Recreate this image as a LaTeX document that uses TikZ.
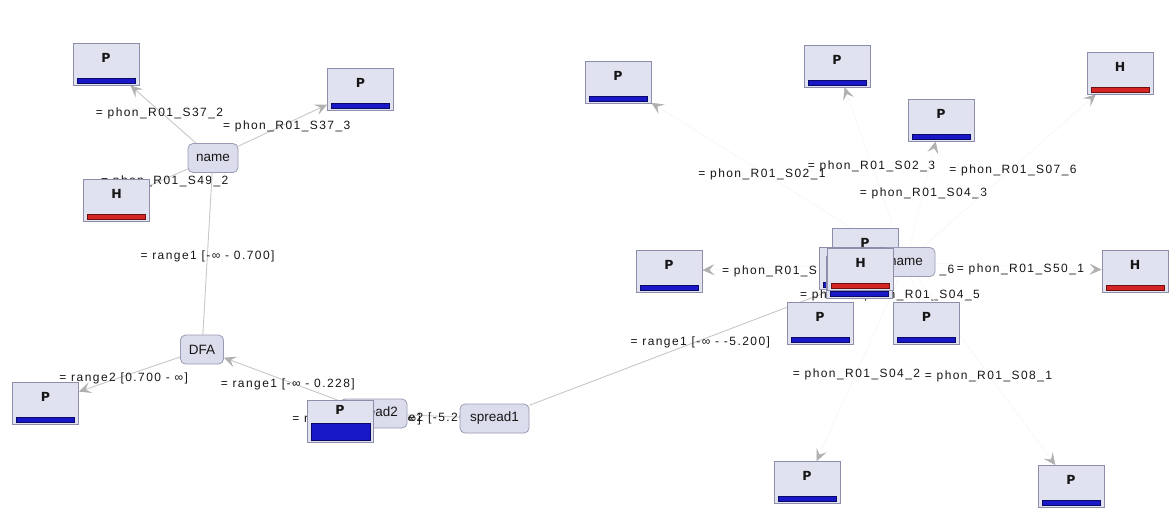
\documentclass[tikz,border=0pt]{standalone}
\usepackage{fontspec}
\setmainfont{Liberation Sans}
\newfontfamily\edgefont{Liberation Sans}[LetterSpace=12]
\newfontfamily\boxfont{DejaVu Sans}
\usetikzlibrary{arrows.meta,calc}

\definecolor{boxfill}{HTML}{E1E2F0}
\definecolor{boxline}{HTML}{8E8EAA}
\definecolor{pillfill}{HTML}{DCDDEC}
\definecolor{pillline}{HTML}{9A9AB4}
\definecolor{barblue}{HTML}{1818C8}
\definecolor{barblueedge}{HTML}{0A0A66}
\definecolor{barred}{HTML}{D42424}
\definecolor{barrededge}{HTML}{6E1010}
\definecolor{edgegray}{HTML}{C8C8C8}
\definecolor{faintgray}{HTML}{F5F5F5}
\definecolor{tipgray}{HTML}{B0B0B0}
\definecolor{ink}{HTML}{161616}

\pgfdeclarelayer{canvas}
\pgfdeclarelayer{back}
\pgfsetlayers{canvas,back,main}

\tikzset{
  leafbox/.style={rectangle, draw=boxline, fill=boxfill, line width=0.8pt,
    minimum width=66pt, minimum height=42pt, inner sep=0pt,
    text height=9.5pt, text depth=13pt, text=ink,
    font=\boxfont\bfseries\fontsize{12.5}{13}\selectfont},
  pbox/.style={leafbox, path picture={
    \fill[barblue, draw=barblueedge, line width=0.8pt]
      ([xshift=4pt,yshift=2pt]path picture bounding box.south west) rectangle
      ([xshift=-4pt,yshift=7pt]path picture bounding box.south east);}},
  hbox/.style={leafbox, path picture={
    \fill[barred, draw=barrededge, line width=0.8pt]
      ([xshift=4pt,yshift=2pt]path picture bounding box.south west) rectangle
      ([xshift=-4pt,yshift=7pt]path picture bounding box.south east);}},
  bluebox/.style={leafbox, text height=10pt, text depth=24pt, path picture={
    \fill[barblue, draw=barblueedge, line width=0.8pt]
      ([xshift=4pt,yshift=2pt]path picture bounding box.south west) rectangle
      ([xshift=-3pt,yshift=19pt]path picture bounding box.south east);}},
  pill/.style={rectangle, rounded corners=5pt, draw=pillline, fill=pillfill,
    line width=0.8pt, minimum height=29pt, inner xsep=0pt, text=ink,
    font=\fontsize{13.5}{14}\selectfont},
  elabel/.style={inner sep=0pt, yshift=-2.5pt, text=ink,
    font=\edgefont\fontsize{12}{13}\selectfont},
  link/.style={draw=edgegray, line width=0.9pt},
  farlink/.style={draw=faintgray, line width=0.5pt},
  tip/.style={-{Stealth[length=12pt,width=11pt,inset=5pt,color=tipgray]}},
}

\begin{document}
\begin{tikzpicture}[x=1pt,y=-1pt]
\begin{pgfonlayer}{canvas}
\fill[white] (0,0) rectangle (1175,512);
\end{pgfonlayer}
\useasboundingbox (0,0) rectangle (1175,512);

% ---- left subtree nodes
\node[pbox] (lp1) at (106,64) {P};
\node[pbox] (lp2) at (360.5,89) {P};
\node[hbox] (lh) at (116.5,200) {H};
\node[pill, minimum width=50pt] (lname) at (213,158) {name};
\node[pill, minimum width=43pt] (dfa) at (202,349.5) {DFA};
\node[pbox] (lp3) at (45.5,403) {P};
\node[pill, minimum width=67pt] (spr2) at (373.5,413.5) {spread2};
\node[bluebox] (lp4) at (340,421) {P};
\node[pill, minimum width=69pt] (spr1) at (494.5,418.5) {spread1};

% ---- right subtree nodes
\node[pbox] (rp1) at (618,82) {P};
\node[pbox] (rp2) at (837,66) {P};
\node[pbox] (rp3) at (941,120) {P};
\node[hbox] (rh1) at (1120,73) {H};
\node[pbox] (rp4) at (669,271.5) {P};
\node[hbox] (rh2) at (1135,271) {H};
\node[pbox] (rp5) at (820,323.5) {P};
\node[pbox] (rp6) at (926.5,323.5) {P};
\node[pbox] (rp7) at (807,482.5) {P};
\node[pbox] (rp8) at (1071,486.5) {P};
\node[pbox] (rp9) at (865,249) {P};
\node[pill, minimum width=58pt] (rname) at (906,262) {name};
\node[pbox] (rp10) at (852,268) {P};
\node[pbox] (rp11) at (859,277) {P};
\node[hbox] (rh3) at (860.5,269) {H};

\begin{pgfonlayer}{back}
% ---- left subtree connectors
\draw[link,tip] (lname) -- (lp1);
\node[elabel] at ($(lname)!.5!(lp1)$) {= phon\_R01\_S37\_2};
\draw[link,tip] (lname) -- (lp2);
\node[elabel] at ($(lname)!.5!(lp2)$) {= phon\_R01\_S37\_3};
\draw[link] (lname) -- (lh);
\node[elabel] at ($(lname)!.5!(lh)$) {= phon\_R01\_S49\_2};
\draw[link] (dfa) -- (lname);
\node[elabel] at ($(dfa)!.5!(lname)$) {= range1 [-∞ - 0.700]};
\draw[link,tip] (dfa) -- (lp3);
\node[elabel] at ($(dfa)!.5!(lp3)$) {= range2 [0.700 - ∞]};
\draw[link,tip] (spr2) -- (dfa);
\node[elabel] at ($(spr2)!.5!(dfa)$) {= range1 [-∞ - 0.228]};
\draw[link] (spr2.center) -- (lp4.center);
\node[elabel] at ($(spr2)!.5!(lp4)$) {= range2 [0.228 - ∞]};
\draw[link] (spr1) -- (spr2);
\node[elabel] at ($(spr1)!.5!(spr2)$) {= range2 [-5.200 - ∞]};
\draw[link] (spr1) -- (rname);
\node[elabel] at ($(spr1)!.5!(rname)$) {= range1 [-∞ - -5.200]};

% ---- right subtree connectors
\draw[farlink,tip] (rname) -- (rp1);
\node[elabel] at ($(rname)!.5!(rp1)$) {= phon\_R01\_S02\_1};
\draw[farlink,tip] (rname) -- (rp2);
\node[elabel] at ($(rname)!.5!(rp2)$) {= phon\_R01\_S02\_3};
\draw[farlink,tip] (rname) -- (rp3);
\node[elabel] at ($(rname)!.5!(rp3)$) {= phon\_R01\_S04\_3};
\draw[farlink,tip] (rname) -- (rh1);
\node[elabel] at ($(rname)!.5!(rh1)$) {= phon\_R01\_S07\_6};
\draw[farlink,tip] (rname) -- (rp4);
\node[elabel, anchor=west] at (722,269) {= phon\_R01\_S};
\draw[farlink,tip] (rname) -- (rh2);
\node[elabel] at ($(rname)!.5!(rh2)$) {= phon\_R01\_S50\_1};
\draw[farlink] (rname) -- (rp5);
\node[elabel, anchor=west] at (800,293) {= ph};
\draw[farlink] (rname) -- (rp6);
\node[elabel] at ($(rname)!.5!(rp6)$) {= phon\_R01\_S04\_5};
\draw[farlink,tip] (rname) -- (rp7);
\node[elabel] at ($(rname)!.5!(rp7)$) {= phon\_R01\_S04\_2};
\draw[farlink,tip] (rname) -- (rp8);
\node[elabel] at ($(rname)!.5!(rp8)$) {= phon\_R01\_S08\_1};
\draw[farlink] (rname.center) -- (rp9.center);
\draw[farlink] (rname.center) -- (rp10.center);
\draw[farlink] (rname.center) -- (rp11.center);
\draw[farlink] (rname.center) -- (rh3.center);
\node[elabel] at (947,268) {\_6};
\end{pgfonlayer}
\end{tikzpicture}
\end{document}
